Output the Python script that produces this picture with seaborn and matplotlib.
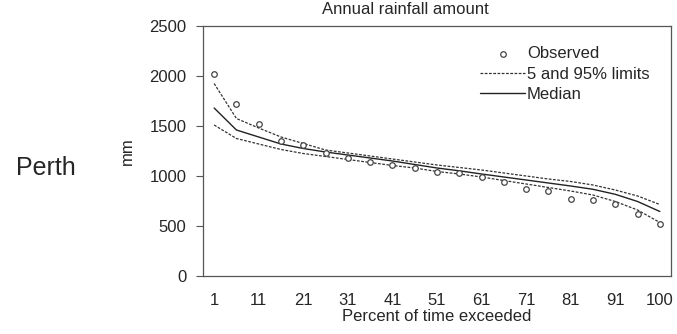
import numpy as np
import pandas as pd
import seaborn as sns
import matplotlib.pyplot as plt

# data
percent = [1, 6, 11, 16, 21, 26, 31, 36, 41, 46, 51, 56, 61, 66, 71, 76, 81, 86, 91, 96, 100]
observed = [2020, 1717, 1520, 1353, 1307, 1227, 1177, 1143, 1110, 1077, 1045,
            1027, 990, 945, 873, 848, 773, 757, 723, 623, 525]
upper = [1925, 1575, 1480, 1390, 1325, 1260, 1230, 1200, 1170, 1140, 1110,
         1085, 1060, 1030, 1000, 970, 945, 910, 860, 800, 715]
median = [1680, 1460, 1390, 1320, 1275, 1240, 1210, 1180, 1150, 1115, 1080,
          1052, 1020, 990, 960, 930, 900, 867, 817, 745, 645]
lower = [1510, 1375, 1320, 1265, 1225, 1195, 1165, 1135, 1105, 1080, 1045,
         1020, 990, 955, 920, 885, 850, 810, 745, 660, 535]
tick_labels = ['1', '11', '21', '31', '41', '51', '61', '71', '81', '91', '100']

df = pd.DataFrame({'pos': np.arange(len(percent)), 'percent': percent,
                   'observed': observed, 'upper': upper,
                   'median': median, 'lower': lower})

sns.set_style("white")
plt.rcParams['font.family'] = ['Liberation Sans', 'DejaVu Sans']

fig = plt.figure(figsize=(6.77, 3.34), dpi=100)
ax = fig.add_axes([203 / 677, 1 - 276 / 334, 468 / 677, 250 / 334])

dash = (0, (2.2, 1.2))
sns.scatterplot(data=df, x='pos', y='observed', ax=ax, marker='o', s=16,
                facecolor='white', edgecolor='#444444', linewidth=0.9,
                label='Observed', zorder=3)
sns.lineplot(data=df, x='pos', y='upper', ax=ax, color='#333333', lw=0.9,
             linestyle=dash, label='5 and 95% limits')
sns.lineplot(data=df, x='pos', y='lower', ax=ax, color='#333333', lw=0.9,
             linestyle=dash, label='_nolegend_')
sns.lineplot(data=df, x='pos', y='median', ax=ax, color='#222222', lw=1.0,
             label='Median')

ax.set_xlim(-0.5, len(percent) - 0.5)
ax.set_ylim(0, 2500)
ax.set_yticks(range(0, 2501, 500))
ax.set_xticks(range(0, len(percent), 2))
ax.set_xticklabels(tick_labels)
ax.tick_params(axis='x', length=0, pad=12, labelsize=12)
ax.tick_params(axis='y', length=5, width=0.8, pad=7, labelsize=12, left=True,
               color='#555555')
for s in ax.spines.values():
    s.set_color('#555555')
    s.set_linewidth(0.9)

ax.set_xlabel('Percent of time exceeded', fontsize=12, labelpad=1)
ax.set_ylabel('mm', fontsize=12, labelpad=10)

leg = ax.legend(loc='upper left', bbox_to_anchor=(0.578, 0.945), frameon=False,
                fontsize=12, handlelength=2.7, handletextpad=0.1,
                labelspacing=0.32, borderaxespad=0)

fig.text(405 / 677, 1 - 9 / 334, 'Annual rainfall amount', fontsize=12,
         ha='center', va='center')
fig.text(46 / 677, 1 - 168 / 334, 'Perth', fontsize=18, ha='center',
         va='center')

fig.savefig('out.png', dpi=100)
